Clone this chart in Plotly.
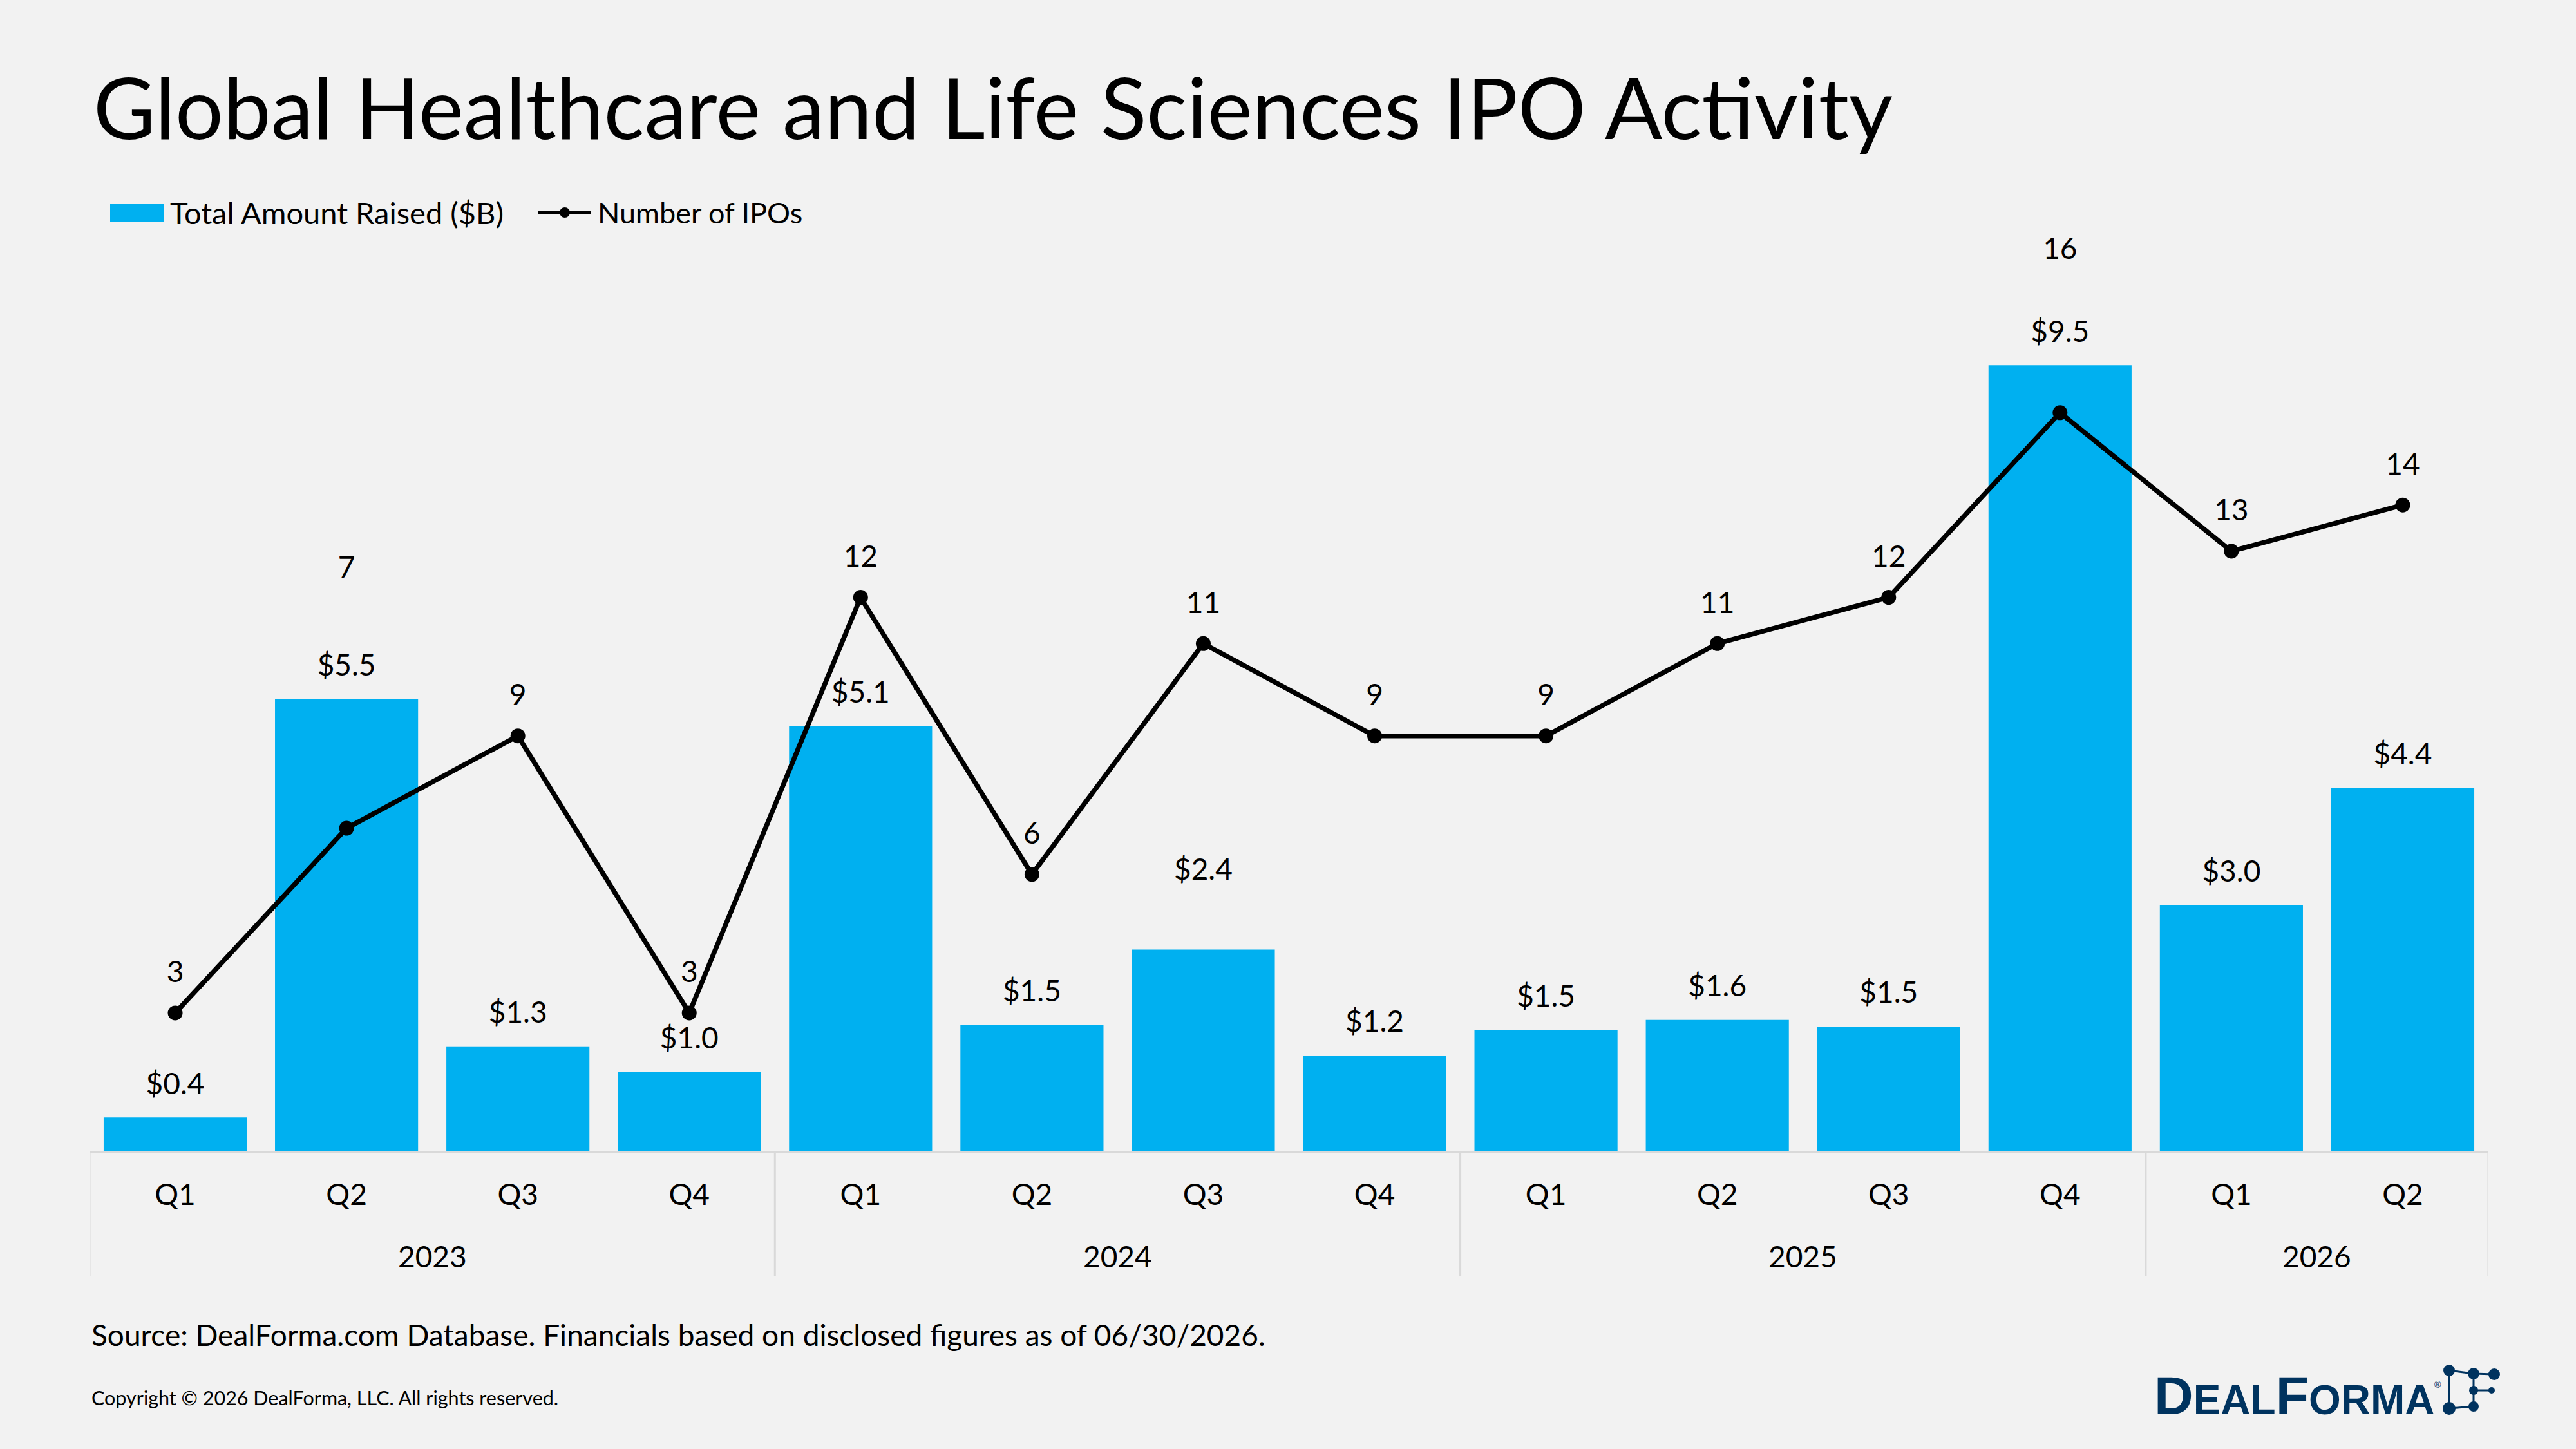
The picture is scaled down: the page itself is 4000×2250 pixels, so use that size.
import plotly.graph_objects as go

# ---------------- data ----------------
years = ["2023"] * 4 + ["2024"] * 4 + ["2025"] * 4 + ["2026"] * 2
quarters = ["Q1", "Q2", "Q3", "Q4"] * 3 + ["Q1", "Q2"]
amount_raised = [0.41, 5.47, 1.27, 0.96, 5.14, 1.53, 2.44, 1.16, 1.47, 1.59, 1.51, 9.5, 2.98, 4.39]
num_ipos = [3, 7, 9, 3, 12, 6, 11, 9, 9, 11, 12, 16, 13, 14]

# ---------------- layout constants ----------------
W, H = 4000, 2250
ML, MR, MT, MB = 139, 136, 375, 462
PLOT_W = W - ML - MR
PLOT_H = H - MT - MB
PX_PER_B = 128.5      # pixels per $B
PX_PER_IPO = 71.7     # pixels per IPO
Y1_MAX = PLOT_H / PX_PER_B
Y2_MAX = PLOT_H / PX_PER_IPO

# label lifts (pixels above the mark)
bar_label_lift = [48, 48, 48, 48, 48, 48, 120, 48, 48, 48, 48, 48, 48, 48]
ipo_label_lift = [59, 401, 59, 59, 59, 59, 59, 59, 59, 59, 59, 250, 59, 59]

FONT = "Lato"
BLUE = "#00b0f0"
NAVY = "#00335f"
BG = "#f2f2f2"
GRID = "#d9d9d9"
LABEL_SIZE = 46


def px(x):
    return (x - ML) / PLOT_W


def py(y):
    return (H - MB - y) / PLOT_H


x_keys = [f"{y} {q}" for y, q in zip(years, quarters)]
n = len(x_keys)

fig = go.Figure()
fig.add_trace(go.Bar(
    x=x_keys, y=amount_raised, name="Total Amount Raised ($B)",
    marker=dict(color=BLUE, line=dict(width=0)), showlegend=False,
))
fig.add_trace(go.Scatter(
    x=x_keys, y=num_ipos, name="Number of IPOs", yaxis="y2",
    mode="lines+markers", line=dict(color="black", width=7.5),
    marker=dict(color="black", size=23), showlegend=False,
))
# value labels
fig.add_trace(go.Scatter(
    x=x_keys, y=[v + l / PX_PER_B for v, l in zip(amount_raised, bar_label_lift)],
    mode="text", text=[f"${v:.1f}" for v in amount_raised],
    textposition="middle center", textfont=dict(family=FONT, size=LABEL_SIZE, color="black"),
    showlegend=False, hoverinfo="skip", cliponaxis=False,
))
fig.add_trace(go.Scatter(
    x=x_keys, y=[v + l / PX_PER_IPO for v, l in zip(num_ipos, ipo_label_lift)], yaxis="y2",
    mode="text", text=[str(v) for v in num_ipos],
    textposition="middle center", textfont=dict(family=FONT, size=LABEL_SIZE, color="black"),
    showlegend=False, hoverinfo="skip", cliponaxis=False,
))

annotations = [
    dict(text="Global Healthcare and Life Sciences IPO Activity", x=px(143), y=py(165),
         xanchor="left", yanchor="middle", font=dict(family=FONT, size=132, color="black")),
    dict(text="Total Amount Raised ($B)", x=px(262), y=py(330),
         xanchor="left", yanchor="middle", font=dict(family=FONT, size=47, color="black")),
    dict(text="Number of IPOs", x=px(926), y=py(330),
         xanchor="left", yanchor="middle", font=dict(family=FONT, size=45, color="black")),
    dict(text="Source: DealForma.com Database. Financials based on disclosed figures as of 06/30/2026.",
         x=px(140), y=py(2072), xanchor="left", yanchor="middle",
         font=dict(family=FONT, size=46, color="black")),
    dict(text="Copyright \u00a9 2026 DealForma, LLC. All rights reserved.",
         x=px(140), y=py(2170), xanchor="left", yanchor="middle",
         font=dict(family=FONT, size=30.5, color="black")),
    dict(text="<b><span style='font-size:84px'>D</span>EAL<span style='font-size:84px'>F</span>ORMA</b>",
         x=px(3343), y=py(2216), xanchor="left", yanchor="bottom",
         font=dict(family="Liberation Sans", size=64, color=NAVY)),
    dict(text="\u00ae", x=px(3785), y=py(2150), xanchor="center", yanchor="middle",
         font=dict(family="Liberation Sans", size=14, color=NAVY)),
]
for a in annotations:
    a.update(xref="paper", yref="paper", showarrow=False)

# year group labels and dividers (derived from the category data)
groups = []
start = 0
for i in range(1, n + 1):
    if i == n or years[i] != years[start]:
        groups.append((years[start], start, i - 1))
        start = i

shapes = []
for label, s, e in groups:
    annotations.append(dict(text=label, x=(s + e) / 2, xref="x", y=py(1950), yref="paper",
                            xanchor="center", yanchor="middle", showarrow=False,
                            font=dict(family=FONT, size=LABEL_SIZE, color="black")))
boundaries = [groups[0][1] - 0.5] + [e + 0.5 for _, _, e in groups]
for b in boundaries:
    shapes.append(dict(type="line", x0=b, x1=b, xref="x", y0=0, y1=py(1982), yref="paper",
                       line=dict(color=GRID, width=3), layer="below"))

# legend symbols
shapes += [
    dict(type="rect", x0=px(171), x1=px(255), y0=py(344), y1=py(316), xref="paper", yref="paper",
         fillcolor=BLUE, line=dict(width=0)),
    dict(type="line", x0=px(836), x1=px(918), y0=py(330), y1=py(330), xref="paper", yref="paper",
         line=dict(color="black", width=6)),
    dict(type="circle", x0=px(869), x1=px(885), y0=py(338), y1=py(322), xref="paper", yref="paper",
         fillcolor="black", line=dict(width=0)),
]
# logo network icon
dots = [(3803, 2128, 9), (3841, 2133, 9), (3873, 2134, 9), (3841, 2159, 7),
        (3869, 2159, 5), (3803, 2187, 10), (3841, 2184, 8)]
links = [(0, 1), (1, 2), (0, 5), (1, 6), (3, 4), (5, 6)]
for i, j in links:
    shapes.append(dict(type="line", x0=px(dots[i][0]), y0=py(dots[i][1]),
                       x1=px(dots[j][0]), y1=py(dots[j][1]), xref="paper", yref="paper",
                       line=dict(color=NAVY, width=3)))
for cx, cy, r in dots:
    shapes.append(dict(type="circle", x0=px(cx - r), x1=px(cx + r), y0=py(cy + r), y1=py(cy - r),
                       xref="paper", yref="paper", fillcolor=NAVY, line=dict(width=0)))

fig.update_layout(
    width=W, height=H,
    margin=dict(l=ML, r=MR, t=MT, b=MB, pad=0),
    paper_bgcolor=BG, plot_bgcolor=BG,
    bargap=0.165,
    showlegend=False,
    font=dict(family=FONT, size=LABEL_SIZE, color="black"),
    xaxis=dict(
        type="category", range=[-0.5, n - 0.5], showline=True, linecolor=GRID, linewidth=3,
        tickmode="array", tickvals=x_keys, ticktext=quarters,
        ticks="", ticklabelstandoff=25,
        tickfont=dict(family=FONT, size=LABEL_SIZE, color="black"), showgrid=False,
    ),
    yaxis=dict(range=[0, Y1_MAX], visible=False, showgrid=False),
    yaxis2=dict(range=[0, Y2_MAX], overlaying="y", visible=False, showgrid=False),
    annotations=annotations,
    shapes=shapes,
)

fig.write_html("out.html")
